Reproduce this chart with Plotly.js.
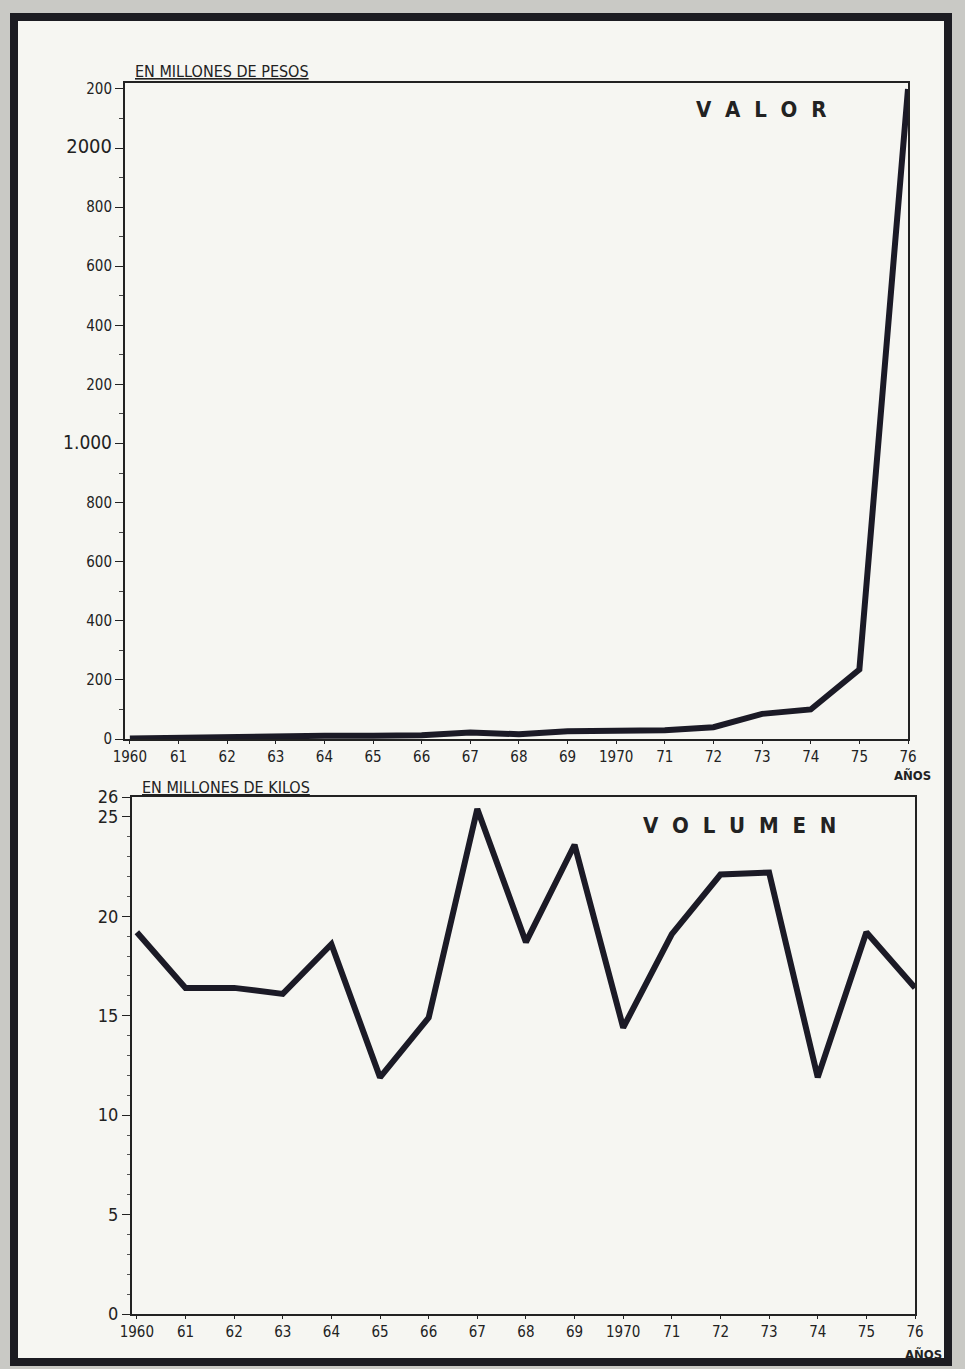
<!DOCTYPE html>
<html><head><meta charset="utf-8">
<script src="https://cdn.plot.ly/plotly-3.0.1.min.js"></script>
<style>html,body{margin:0;padding:0;background:#c9c9c5}</style>
</head><body><div id="chart" style="width:965px;height:1369px"></div>
<script>
const years = [1960,1961,1962,1963,1964,1965,1966,1967,1968,1969,1970,1971,1972,1973,1974,1975,1976];
const yearLabels = ["1960","61","62","63","64","65","66","67","68","69","1970","71","72","73","74","75","76"];
const valor = [2,5,8,9,11,11,13,22,16,26,30,30,40,85,100,235,2200];
const volumen = [19.2,16.4,16.4,16.1,18.6,11.9,14.9,25.4,18.7,23.6,14.4,19.1,22.1,22.2,11.9,19.2,16.4];
const valorTickVals = [0,200,400,600,800,1000,1200,1400,1600,1800,2000,2200];
const valorTickText = ["0","200","400","600","800",'<span style="font-size:19px">1.000</span>',"200","400","600","800",'<span style="font-size:20px">2000</span>',"200"];
const volTickVals = [0,5,10,15,20,25,26];
const volTickText = ["0","5","10","15","20","25","26"];

const W=965,H=1369;
const px = x=>x/W, py = y=>1-y/H;
const lineColor = '#1b1a26';
const font = {family:'"DejaVu Sans Condensed","DejaVu Sans",sans-serif', size:15, color:'#222'};

const traces = [
 {x:years, y:valor, xaxis:'x', yaxis:'y', mode:'lines', line:{color:lineColor, width:6}, hoverinfo:'skip'},
 {x:years, y:volumen, xaxis:'x2', yaxis:'y2', mode:'lines', line:{color:lineColor, width:6}, hoverinfo:'skip'}
];

const axX = (dom, anchor)=>({domain:dom, anchor:anchor, range:[1959.9,1976], tickvals:years, ticktext:yearLabels,
  showline:true, linecolor:'#222', linewidth:2, mirror:true, ticks:'outside', ticklen:3, tickcolor:'#222',
  showgrid:false, zeroline:false, tickfont:font, fixedrange:true});

const sp = (s, gap) => s.split('').join(gap);

const layout = {
 width:W, height:H, margin:{l:0,r:0,t:0,b:0}, showlegend:false,
 paper_bgcolor:'#c9c9c5', plot_bgcolor:'rgba(0,0,0,0)', font:font,
 xaxis: axX([px(125),px(908)],'y'),
 yaxis: {domain:[py(739),py(83)], anchor:'x', range:[0,2220], tickvals:valorTickVals, ticktext:valorTickText,
   showline:true, linecolor:'#222', linewidth:2, mirror:true, ticks:'outside', ticklen:8, tickcolor:'#222',
   minor:{dtick:100, ticks:'outside', ticklen:4, tickcolor:'#444', showgrid:false},
   showgrid:false, zeroline:false, tickfont:font, fixedrange:true},
 xaxis2: axX([px(132),px(915)],'y2'),
 yaxis2: {domain:[py(1314),py(797)], anchor:'x2', range:[0,26], tickvals:volTickVals, ticktext:volTickText,
   showline:true, linecolor:'#222', linewidth:2, mirror:true, ticks:'outside', ticklen:8, tickcolor:'#222',
   minor:{dtick:1, ticks:'outside', ticklen:3, tickcolor:'#555', showgrid:false},
   showgrid:false, zeroline:false, tickfont:{...font, size:18}, fixedrange:true},
 shapes:[
  {type:'rect', xref:'paper', yref:'paper', x0:px(14), x1:px(948), y0:py(1362), y1:py(17),
   line:{color:'#1c1c22', width:8}, fillcolor:'#f6f6f2', layer:'below'}
 ],
 annotations:[
  {text:'<u>EN MILLONES DE PESOS</u>', xref:'paper', yref:'paper', x:px(133), y:py(72), xanchor:'left', yanchor:'middle',
   showarrow:false, font:{...font, size:16, color:'#222'}},
  {text:'<b>'+sp('VALOR','&nbsp;&nbsp;')+'</b>', xref:'paper', yref:'paper', x:px(828), y:py(110), xanchor:'right', yanchor:'middle',
   showarrow:false, font:{...font, size:22, color:'#222'}},
  {text:'<u>EN MILLONES DE KILOS</u>', xref:'paper', yref:'paper', x:px(140), y:py(787), xanchor:'left', yanchor:'middle',
   showarrow:false, font:{...font, size:16, color:'#222'}},
  {text:'<b>'+sp('VOLUMEN','&nbsp; ')+'</b>', xref:'paper', yref:'paper', x:px(838), y:py(825), xanchor:'right', yanchor:'middle',
   showarrow:false, font:{...font, size:22, color:'#222'}},
  {text:'<b>AÑOS</b>', xref:'paper', yref:'paper', x:px(912), y:py(775), xanchor:'center', yanchor:'middle',
   showarrow:false, font:{...font, size:13, color:'#222'}},
  {text:'<b>AÑOS</b>', xref:'paper', yref:'paper', x:px(923), y:py(1354), xanchor:'center', yanchor:'middle',
   showarrow:false, font:{...font, size:13, color:'#222'}}
 ]
};
Plotly.newPlot('chart', traces, layout, {staticPlot:true, displayModeBar:false});
</script></body></html>
